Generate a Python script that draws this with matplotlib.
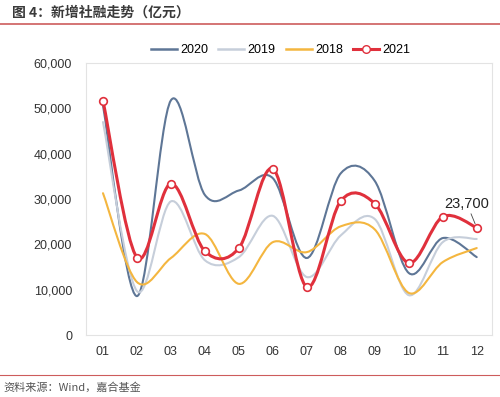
import matplotlib
matplotlib.use('Agg')
import matplotlib.pyplot as plt
from matplotlib.path import Path
from matplotlib.patches import PathPatch
from matplotlib.lines import Line2D
from matplotlib.ticker import FuncFormatter

plt.rcParams['font.family'] = ['Liberation Sans', 'Noto Sans CJK SC', 'DejaVu Sans']

# data (亿元)
months = ['01', '02', '03', '04', '05', '06', '07', '08', '09', '10', '11', '12']
y2020 = [50700, 8600, 51800, 30900, 31900, 34600, 17000, 35700, 34000, 13700, 21400, 17200]
y2019 = [47000, 9700, 29500, 16500, 17200, 26300, 12800, 22000, 25600, 8800, 20500, 21200]
y2018 = [31300, 11700, 17000, 22300, 11300, 20500, 18300, 24000, 23300, 9300, 16100, 19200]
y2021 = [51700, 17100, 33400, 18500, 19200, 36700, 10600, 29600, 29000, 15900, 26100, 23700]

c2020 = '#5E7696'
c2019 = '#C6CEDA'
c2018 = '#F4B63F'
c2021 = '#E0303C'
rule_red = '#CD5C5C'


def smooth_path(xs, ys):
    # excel-like smoothed line: cubic bezier through every point
    n = len(xs)
    verts = [(xs[0], ys[0])]
    codes = [Path.MOVETO]
    for i in range(n - 1):
        a = i - 1 if i > 0 else i
        d = i + 2 if i + 2 < n else i + 1
        c1 = (xs[i] + (xs[i + 1] - xs[a]) / 6, ys[i] + (ys[i + 1] - ys[a]) / 6)
        c2 = (xs[i + 1] - (xs[d] - xs[i]) / 6, ys[i + 1] - (ys[d] - ys[i]) / 6)
        verts += [c1, c2, (xs[i + 1], ys[i + 1])]
        codes += [Path.CURVE4] * 3
    return Path(verts, codes)


fig = plt.figure(figsize=(5.0, 3.97), dpi=100)
ax = fig.add_axes([0.172, 0.156, 0.812, 0.685])

x = list(range(1, len(months) + 1))
series = [('2020', y2020, c2020, 1.5), ('2019', y2019, c2019, 1.5),
          ('2018', y2018, c2018, 1.5), ('2021', y2021, c2021, 2.2)]
for i, (name, vals, col, lw) in enumerate(series):
    ax.add_patch(PathPatch(smooth_path(x, vals), facecolor='none',
                           edgecolor=col, lw=lw, zorder=2 + i, capstyle='round'))

ax.plot(x, y2021, 'o', ls='none', ms=5.5, mfc='white', mec=c2021, mew=1.2, zorder=10)

ax.annotate('{:,}'.format(y2021[-1]), xy=(x[-1], y2021[-1]), xytext=(-7, 12),
            textcoords='offset points', ha='center', va='bottom', fontsize=10.5,
            color='#222222',
            arrowprops=dict(arrowstyle='-', color='#444444', lw=0.6, shrinkA=0, shrinkB=3))

ax.set_xlim(0.5, 12.45)
ax.set_ylim(0, 60000)
ax.set_yticks(range(0, 60001, 10000))
ax.yaxis.set_major_formatter(FuncFormatter(lambda v, p: '{:,}'.format(int(v))))
ax.set_xticks(x)
ax.set_xticklabels(months)
ax.tick_params(length=0, labelsize=9, colors='#333333')
ax.tick_params(axis='y', pad=10)
ax.tick_params(axis='x', pad=8)
for s in ax.spines.values():
    s.set_color('#E3E3E3')
    s.set_linewidth(0.8)

handles = [Line2D([], [], color=c2020, lw=1.8),
           Line2D([], [], color=c2019, lw=1.8),
           Line2D([], [], color=c2018, lw=1.8),
           Line2D([], [], color=c2021, lw=2.2, marker='o', ms=5.5, mfc='white', mec=c2021)]
fig.legend(handles, ['2020', '2019', '2018', '2021'], loc='center', ncol=4,
           bbox_to_anchor=(0.561, 0.874), frameon=False, fontsize=9,
           handlelength=2.1, handletextpad=0.25, columnspacing=0.8)

fig.text(0.024, 0.968, '图 4：新增社融走势（亿元）', fontsize=10, fontweight='bold',
         color='#3A3A3A', va='center', family=['Noto Sans CJK SC', 'DejaVu Sans'])
fig.add_artist(Line2D([0, 1], [0.94, 0.94], color=rule_red, lw=1.2,
                      transform=fig.transFigure))
fig.add_artist(Line2D([0, 1], [0.056, 0.056], color=rule_red, lw=0.8,
                      transform=fig.transFigure))
fig.text(0.006, 0.025, '资料来源：Wind，嘉合基金', fontsize=8, color='#555555',
         va='center', family=['Noto Sans CJK SC', 'DejaVu Sans'])

fig.savefig('out.png', dpi=100, facecolor='white')
